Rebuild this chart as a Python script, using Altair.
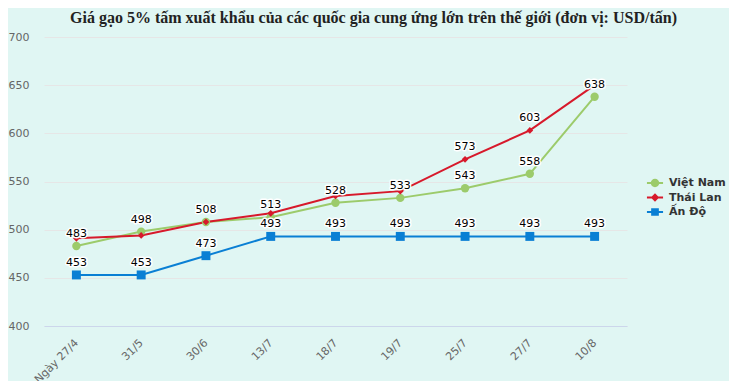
import altair as alt
import pandas as pd

dates = ["Ngày 27/4", "31/5", "30/6", "13/7", "18/7", "19/7", "25/7", "27/7", "10/8"]
series = ["Việt Nam", "Thái Lan", "Ấn Độ"]
vn = [483, 498, 508, 513, 528, 533, 543, 558, 638]
tl = [491, 494, 508, 517, 535, 540, 573, 603, 650]
ad = [453, 453, 473, 493, 493, 493, 493, 493, 493]
vn_lab = [1, 1, 1, 1, 1, 1, 1, 1, 1]
tl_lab = [0, 0, 0, 0, 0, 0, 1, 1, 0]
ad_lab = [1, 1, 1, 1, 1, 1, 1, 1, 1]
colors = ["#9ccb6b", "#d7192b", "#0a7fd4"]
shapes = ["circle", "diamond", "square"]
sizes = [70, 45, 80]

rows = []
for name, vals, labs in zip(series, [vn, tl, ad], [vn_lab, tl_lab, ad_lab]):
    for d, v, l in zip(dates, vals, labs):
        rows.append({"date": d, "series": name, "value": v, "lab": l})
df = pd.DataFrame(rows)

bar_l = "M-1.15,-0.15L-0.4,-0.15L-0.4,0.15L-1.15,0.15Z"
bar_r = "M0.4,-0.15L1.15,-0.15L1.15,0.15L0.4,0.15Z"
legend_paths = [
    bar_l + bar_r + "M-0.6,0A0.6,0.6,0,1,1,0.6,0A0.6,0.6,0,1,1,-0.6,0Z",
    bar_l + bar_r + "M0,-0.6L0.6,0L0,0.6L-0.6,0Z",
    bar_l + bar_r + "M-0.55,-0.55L0.55,-0.55L0.55,0.55L-0.55,0.55Z",
]

axis_font = "DejaVu Sans"

legend_props = dict(
    title=None,
    orient="none",
    legendX=604,
    legendY=139,
    padding=0,
    rowPadding=2.5,
    symbolSize=196,
    symbolStrokeWidth=0,
    symbolOpacity=1,
    labelOffset=7,
    labelFont=axis_font,
    labelFontSize=11,
    labelFontWeight="bold",
    labelColor="#333333",
)

x_enc = alt.X(
    "date:N",
    sort=dates,
    scale=alt.Scale(type="point", padding=0.5),
    axis=alt.Axis(
        title=None,
        labelAngle=-45,
        labelAlign="right",
        labelBaseline="middle",
        labelPadding=15,
        labelColor="#666666",
        labelFont=axis_font,
        labelFontSize=11,
        ticks=False,
        grid=False,
        domainColor="#ccd6eb",
        domainWidth=1,
    ),
)
y_enc = alt.Y(
    "value:Q",
    scale=alt.Scale(domain=[400, 700], nice=False, zero=False),
    axis=alt.Axis(
        title=None,
        values=[400, 450, 500, 550, 600, 650, 700],
        labelColor="#666666",
        labelFont=axis_font,
        labelFontSize=11,
        labelPadding=15,
        ticks=False,
        domain=False,
        grid=True,
        gridColor="#e6e6e6",
        gridWidth=1,
    ),
)
color_enc = alt.Color(
    "series:N",
    sort=series,
    scale=alt.Scale(domain=series, range=colors),
    legend=alt.Legend(**legend_props),
)

base = alt.Chart(df).encode(x=x_enc, y=y_enc, color=color_enc)

lines = base.mark_line(strokeWidth=2)
point_layers = [
    base.transform_filter(alt.datum.series == s).mark_point(
        filled=True, opacity=1, shape=shp, size=sz
    )
    for s, shp, sz in zip(series, shapes, sizes)
]

legend_layer = base.mark_point(filled=True, opacity=0, size=0).encode(
    shape=alt.Shape(
        "series:N",
        sort=series,
        scale=alt.Scale(domain=series, range=legend_paths),
        legend=alt.Legend(**legend_props),
    )
)

lab_base = alt.Chart(df).transform_filter("datum.lab == 1").encode(
    x=alt.X("date:N", sort=dates), y=alt.Y("value:Q"), text=alt.Text("value:Q")
)
halo = lab_base.mark_text(
    dy=-12, baseline="middle", font=axis_font, fontSize=11, stroke="white",
    strokeWidth=3, strokeJoin="round", fill="white",
)
labels = lab_base.mark_text(
    dy=-12, baseline="middle", font=axis_font, fontSize=11, fill="#000000",
)

chart = (
    alt.layer(lines, *point_layers, legend_layer, halo, labels)
    .properties(
        width=583,
        height=289,
        padding={"left": 36, "top": 29, "right": 102, "bottom": 55},
        autosize=alt.AutoSizeParams(type="none"),
        title=alt.TitleParams(
            text="Giá gạo 5% tấm xuất khẩu của các quốc gia cung ứng lớn trên thế giới (đơn vị: USD/tấn)",
            font="Liberation Serif",
            fontSize=16,
            fontWeight="bold",
            color="#222222",
            anchor="middle",
            dx=38,
            offset=5,
        ),
    )
    .configure(background="#e0f6f3")
    .configure_view(stroke=None)
)

chart.save("out.html", embed_options={"renderer": "svg", "actions": False})
